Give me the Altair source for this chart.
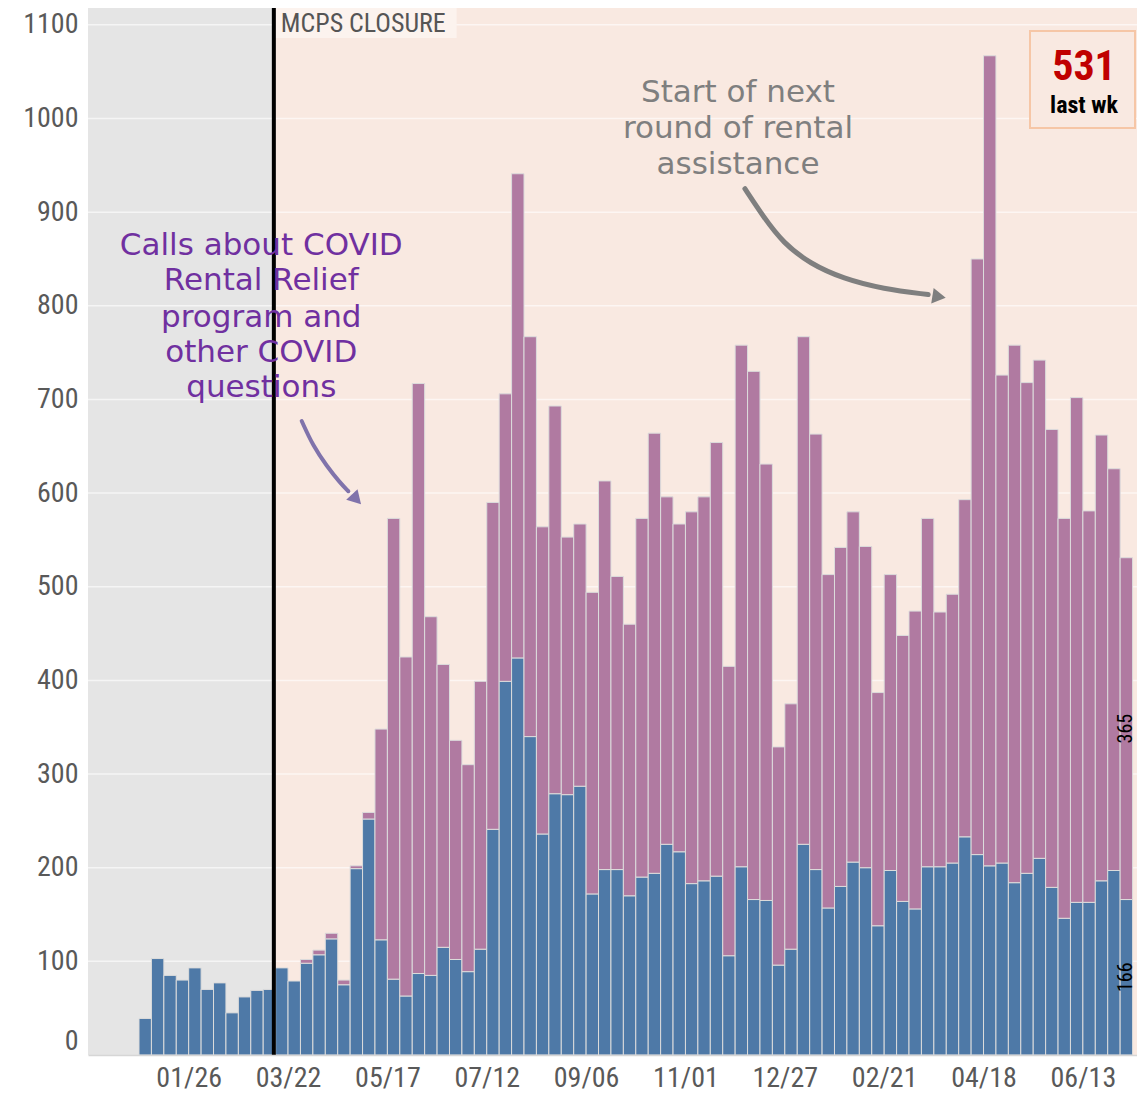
import altair as alt
import pandas as pd

# ---------------- data (weekly calls, weeks start on Sunday) ----------------
first_week = "2019-12-29"
other_calls = [39, 103, 85, 80, 93, 70, 77, 45, 62, 69, 70, 93, 79,
               98, 107, 124, 75, 199, 252, 123,
               81, 63, 87, 85, 115, 102, 89, 113, 241, 399,
               424, 340, 236, 279, 278, 287, 172, 198, 198, 170,
               190, 194, 225, 217, 183, 186, 191, 106, 201, 166,
               165, 96, 113, 225, 198, 157, 180, 206, 200, 138,
               197, 164, 156, 201, 201, 205, 233, 214, 202, 205,
               184, 194, 210, 179, 146, 163, 163, 186, 197, 166]
covid_calls = [0] * 13 + [4, 5, 6, 5, 3, 7, 225,
               492, 362, 630, 383, 302, 234, 221, 286, 349, 307,
               517, 427, 328, 414, 275, 280, 322, 415, 313, 290,
               383, 470, 371, 350, 397, 410, 463, 309, 557, 564,
               466, 233, 262, 542, 465, 356, 362, 374, 343, 249,
               316, 284, 318, 372, 272, 287, 360, 636, 865, 521,
               574, 524, 532, 489, 427, 539, 418, 476, 429, 365]
closure_date = "2020-03-14"
y_ticks = list(range(0, 1200, 100))
x_tick_dates = ["2020-01-26", "2020-03-22", "2020-05-17", "2020-07-12", "2020-09-06",
                "2020-11-01", "2020-12-27", "2021-02-21", "2021-04-18", "2021-06-13"]
series_names = ["Other calls", "COVID calls"]

# annotation text and arrows (days after first week, call counts)
covid_note = ["Calls about COVID", "Rental Relief", "program and", "other COVID", "questions"]
covid_note_day = 68.9
covid_note_vals = [864, 826, 787, 750, 712]
covid_arrow_days = [91.7, 98.2, 105.8, 113.3, 118.0]
covid_arrow_vals = [677, 650, 629, 611, 602]
covid_head = (121.7, 595, 137)

round_note = ["Start of next", "round of rental", "assistance"]
round_note_day = 337.6
round_note_vals = [1027, 989, 950]
round_arrow_days = [341.5, 351.9, 363.1, 378.2, 396.9, 419.5, 444.8]
round_arrow_vals = [925, 895, 867, 845, 829, 818, 812]
round_head = (449.7, 810, 99)

# ---------------- styling ----------------
BLUE = "#4e79a7"
PURPLE = "#b07aa1"
GRAY_BG = "#e5e5e5"
PEACH_BG = "#f9e9e1"
NARROW = "Roboto Condensed, Liberation Sans Narrow, Arial Narrow, Liberation Sans, sans-serif"
HAND = "DejaVu Sans"
W, H = 1049, 1047

base = pd.Timestamp(first_week)
weeks = pd.date_range(first_week, periods=len(other_calls), freq="7D")

rows = []
for i, wk in enumerate(weeks):
    o, c = other_calls[i], covid_calls[i]
    rows.append(dict(start=wk, end=wk + pd.Timedelta(days=7), y0=0, y1=o, series=series_names[0]))
    if c > 0:
        rows.append(dict(start=wk, end=wk + pd.Timedelta(days=7), y0=o, y1=o + c, series=series_names[1]))
df_bars = pd.DataFrame(rows)

xscale = alt.Scale(domain=[alt.DateTime(year=2019, month=11, date=30, hours=6),
                           alt.DateTime(year=2021, month=7, date=13, hours=12)])
yscale = alt.Scale(domain=[0, 1118], nice=False, zero=True)


def dt(s):
    t = pd.Timestamp(s)
    return alt.DateTime(year=t.year, month=t.month, date=t.day)


xaxis = alt.Axis(values=[dt(s) for s in x_tick_dates], format="%m/%d", title=None,
                 labelFont=NARROW, labelFontSize=28, labelColor="#595959", labelPadding=9,
                 ticks=False, grid=False, domain=True, domainColor="#d6d6d6", domainWidth=1.5,
                 labelFlush=False, zindex=1)
yaxis = alt.Axis(values=y_ticks, format="d", title=None, labelFont=NARROW, labelFontSize=28,
                 labelColor="#595959", labelPadding=10, ticks=False, grid=False, domain=False,
                 labelFlush=True)

# backgrounds
closure = pd.Timestamp(closure_date)
df_bg = pd.DataFrame({
    "start": [pd.Timestamp("2019-11-01"), closure],
    "end": [closure, pd.Timestamp("2021-08-01")],
    "fill": [GRAY_BG, PEACH_BG],
})
bg = alt.Chart(df_bg).mark_rect(clip=True).encode(
    x=alt.X("start:T", scale=xscale, title=None),
    x2="end:T",
    y=alt.value(0), y2=alt.value(H),
    color=alt.Color("fill:N", scale=None),
)

grid = alt.Chart(pd.DataFrame({"v": y_ticks[1:]})).mark_rule(
    color="white", opacity=0.6, strokeWidth=1.5).encode(
    y=alt.Y("v:Q", scale=yscale, title=None))

bars = alt.Chart(df_bars).mark_bar(stroke="#dcdcdc", strokeWidth=1).encode(
    x=alt.X("start:T", scale=xscale, axis=xaxis, title=None),
    x2="end:T",
    y=alt.Y("y0:Q", scale=yscale, axis=yaxis, title=None),
    y2="y1:Q",
    color=alt.Color("series:N", scale=alt.Scale(domain=series_names, range=[BLUE, PURPLE]), legend=None),
)

df_close = pd.DataFrame({"date": [closure], "box_end": [closure + pd.Timedelta(days=103)]})
close_box = alt.Chart(df_close).mark_rect(color="#fcf3ee").encode(
    x=alt.X("date:T", scale=xscale, title=None), x2="box_end:T",
    y=alt.value(0), y2=alt.value(30))
close_rule = alt.Chart(df_close).mark_rule(color="black", strokeWidth=4).encode(
    x=alt.X("date:T", scale=xscale, title=None))
close_text = alt.Chart(df_close).mark_text(
    text="MCPS CLOSURE", align="left", baseline="middle", dx=7, font=NARROW,
    fontSize=26, color="#555555").encode(
    x=alt.X("date:T", scale=xscale, title=None), y=alt.value(16))

# segment labels on the last bar
last = len(other_calls) - 1
mid = weeks[last] + pd.Timedelta(days=3.5)
df_seg = pd.DataFrame({
    "date": [mid, mid],
    "v": [other_calls[last] / 2, other_calls[last] + covid_calls[last] / 2],
    "t": [str(other_calls[last]), str(covid_calls[last])],
})
seg_text = alt.Chart(df_seg).mark_text(angle=270, font=NARROW, fontSize=20, color="black",
                                       align="center", baseline="middle").encode(
    x=alt.X("date:T", scale=xscale, title=None), y=alt.Y("v:Q", scale=yscale, title=None),
    text="t:N")


def note_layer(lines, day, vals, color):
    d = pd.DataFrame({"date": [base + pd.Timedelta(days=day)] * len(lines), "v": vals, "t": lines})
    return alt.Chart(d).mark_text(font=HAND, fontWeight="normal", fontSize=31, color=color,
                                  align="center", baseline="middle").encode(
        x=alt.X("date:T", scale=xscale, title=None), y=alt.Y("v:Q", scale=yscale, title=None),
        text="t:N")


def arrow_layers(days, vals, head, color, width):
    d = pd.DataFrame({"date": [base + pd.Timedelta(days=x) for x in days], "v": vals,
                      "o": list(range(len(days)))})
    line = alt.Chart(d).mark_line(color=color, strokeWidth=width, interpolate="basis",
                                  strokeCap="round").encode(
        x=alt.X("date:T", scale=xscale, title=None), y=alt.Y("v:Q", scale=yscale, title=None),
        order="o:Q")
    h = pd.DataFrame({"date": [base + pd.Timedelta(days=head[0])], "v": [head[1]]})
    tip = alt.Chart(h).mark_point(shape="triangle", filled=True, size=240, color=color,
                                  opacity=1, angle=head[2]).encode(
        x=alt.X("date:T", scale=xscale, title=None), y=alt.Y("v:Q", scale=yscale, title=None))
    return line, tip


covid_text = note_layer(covid_note, covid_note_day, covid_note_vals, "#7030a0")
round_text = note_layer(round_note, round_note_day, round_note_vals, "#7f7f7f")
ca_line, ca_tip = arrow_layers(covid_arrow_days, covid_arrow_vals, covid_head, "#8073ab", 4)
ra_line, ra_tip = arrow_layers(round_arrow_days, round_arrow_vals, round_head, "#7f7f7f", 5)

# last-week box
df_last = pd.DataFrame({"total": [other_calls[last] + covid_calls[last]], "lbl": ["last wk"]})
box = alt.Chart(df_last).mark_rect(fill=PEACH_BG, stroke="#f6c6a6", strokeWidth=2).encode(
    x=alt.value(942), x2=alt.value(1047), y=alt.value(23), y2=alt.value(120))
box_num = alt.Chart(df_last).mark_text(font=NARROW, fontWeight="bold", fontSize=42,
                                       color="#c00000", align="center", baseline="alphabetic").encode(
    x=alt.value(996), y=alt.value(72), text="total:Q")
box_lbl = alt.Chart(df_last).mark_text(font=NARROW, fontWeight="bold", fontSize=24,
                                       color="black", align="center", baseline="alphabetic").encode(
    x=alt.value(996), y=alt.value(105), text="lbl:N")

chart = alt.layer(
    bg, grid, bars, close_box, close_rule, close_text, seg_text,
    covid_text, round_text, ca_line, ca_tip, ra_line, ra_tip,
    box, box_num, box_lbl,
).properties(
    width=W, height=H,
    padding={"left": 80, "top": 0, "right": 0, "bottom": 38},
    autosize=alt.AutoSizeParams(type="none"),
    background="white",
).configure_view(stroke=None)

chart.save("out.html", embed_options={"renderer": "svg", "actions": False})
